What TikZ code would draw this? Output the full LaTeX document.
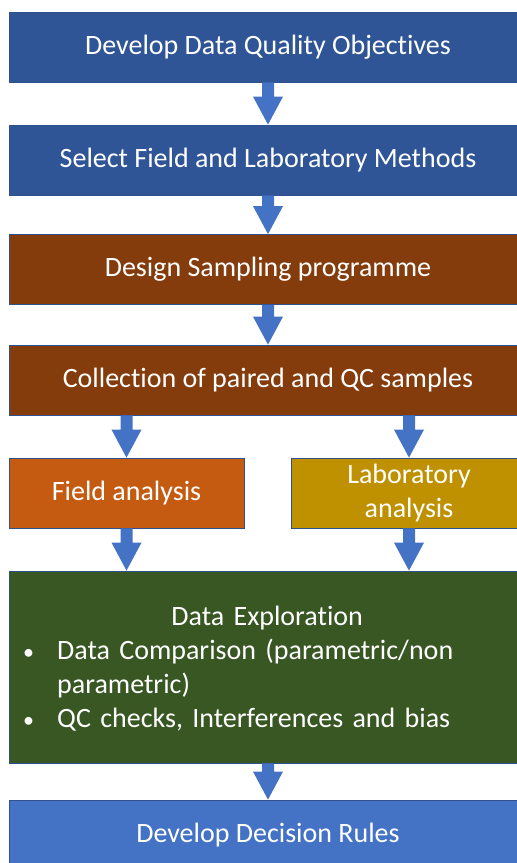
\documentclass[tikz,border=0pt]{standalone}
\usepackage{fontspec}
\setmainfont{Carlito}[Ligatures=NoCommon]
\usetikzlibrary{calc}
\definecolor{cdark}{HTML}{2F5597}
\definecolor{cbrown}{HTML}{843C0C}
\definecolor{corange}{HTML}{C55A11}
\definecolor{cgold}{HTML}{BF9000}
\definecolor{cgreen}{HTML}{385723}
\definecolor{cblue}{HTML}{4472C4}
\definecolor{cedge}{HTML}{2F528F}
\newcommand\blkarrow[2]{\fill[cblue] ($(#1)+(-6,0)$) -- ($(#2)+(-6,-28)$) -- ($(#2)+(-15,-28)$) -- (#2) -- ($(#2)+(15,-28)$) -- ($(#2)+(6,-28)$) -- ($(#1)+(6,0)$) -- cycle;}
\newcommand\mybul{\makebox[42pt][l]{\hspace{8pt}{\fontsize{22}{22}\selectfont\textbullet}}}
\begin{document}
\begin{tikzpicture}[x=1pt,y=-1pt,
  box/.style={draw=cedge, line width=0.8pt, minimum height=70, minimum width=518, text=white, font=\fontsize{28}{34}\selectfont, align=center, inner sep=0pt},
  halfbox/.style={box, minimum width=235}]
\useasboundingbox (0,0) rectangle (517,863);
\clip (0,0) rectangle (517,863);
\node[box, fill=cdark] (b1) at (268,47) {Develop Data Quality Objectives};
\node[box, fill=cdark] (b2) at (268,160) {Select Field and Laboratory Methods};
\node[box, fill=cbrown] (b3) at (268,269.5) {Design Sampling programme};
\node[box, fill=cbrown] (b4) at (268,380) {Collection of paired and QC samples};
\node[halfbox, fill=corange] (field) at (126.5,493) {Field analysis};
\node[halfbox, fill=cgold, minimum width=236] (lab) at (409,493) {Laboratory\\analysis};
\node[box, fill=cgreen, minimum height=192] (green) at (268,667) {};
\node[anchor=north west, text=white, text width=504, align=left, inner sep=0pt,
  font=\fontsize{28}{34}\selectfont] (gtext) at (15,606) {%
  \raggedright
  \makebox[\linewidth][c]{Data Exploration}\par
  \hangindent=42pt\hangafter=1\mybul Data Comparison (parametric/non\newline parametric)\par
  \hangindent=42pt\hangafter=1\mybul QC checks, Interferences and bias\par};
\node[box, fill=cblue] (b6) at (268,835) {Develop Decision Rules};
\blkarrow{b1.south}{b2.north}
\blkarrow{b2.south}{b3.north}
\blkarrow{b3.south}{b4.north}
\blkarrow{b4.south -| field.north}{field.north}
\blkarrow{b4.south -| lab.north}{lab.north}
\blkarrow{field.south}{field.south |- green.north}
\blkarrow{lab.south}{lab.south |- green.north}
\blkarrow{green.south}{b6.north}
\end{tikzpicture}
\end{document}
